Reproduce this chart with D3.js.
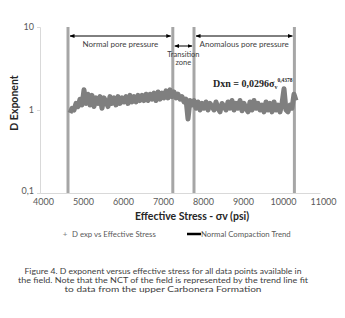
<!DOCTYPE html>
<html>
<head>
<meta charset="utf-8">
<script src="https://cdn.jsdelivr.net/npm/d3@7"></script>
<style>
  body { margin: 0; background: #fff; }
  text { font-family: "Lato", "Open Sans", sans-serif; }
</style>
</head>
<body>
<div id="chart-area"></div>
<script>
// data
var stress = [4750, 4800, 4850, 4900, 4950, 5000, 5050, 5100, 5150, 5200,
    5250, 5300, 5350, 5400, 5450, 5500, 5550, 5600, 5650, 5700,
    5750, 5800, 5850, 5900, 5950, 6000, 6050, 6100, 6150, 6200,
    6250, 6300, 6350, 6400, 6450, 6500, 6550, 6600, 6650, 6700,
    6750, 6800, 6850, 6900, 6950, 7000, 7050, 7100, 7150, 7200,
    7250, 7300, 7350, 7400, 7450, 7500, 7550, 7600, 7650, 7700,
    7750, 7800, 7850, 7900, 7950, 8000, 8050, 8100, 8150, 8200,
    8250, 8300, 8350, 8400, 8450, 8500, 8550, 8600, 8650, 8700,
    8750, 8800, 8850, 8900, 8950, 9000, 9050, 9100, 9150, 9200,
    9250, 9300, 9350, 9400, 9450, 9500, 9550, 9600, 9650, 9700,
    9750, 9800, 9850, 9900, 9950, 10000, 10050, 10100, 10150, 10200,
    10250, 10300, 10350, 10400];
var dexp = [0.92, 1.05, 1.0, 1.2, 1.1, 1.35, 1.15, 1.75, 1.2, 1.55,
    1.15, 1.5, 1.1, 1.4, 1.2, 1.45, 1.05, 1.4, 1.25, 1.1,
    1.45, 1.2, 1.4, 1.15, 1.45, 1.2, 1.4, 1.25, 1.45, 1.2,
    1.5, 1.25, 1.45, 1.25, 1.5, 1.3, 1.5, 1.3, 1.55, 1.3,
    1.55, 1.35, 1.6, 1.3, 1.65, 1.35, 1.6, 1.4, 1.7, 1.4,
    1.75, 1.45, 1.65, 1.4, 1.55, 1.35, 1.45, 1.25, 1.35, 0.78,
    1.3, 1.15, 1.3, 1.05, 1.25, 1.0, 1.2, 1.05, 1.25, 1.0,
    1.2, 1.1, 1.0, 1.25, 1.05, 0.95, 1.2, 1.1, 1.0, 1.25,
    1.05, 1.3, 1.0, 1.2, 1.05, 1.3, 0.98, 1.2, 1.05, 0.95,
    1.25, 1.0, 1.3, 1.05, 1.2, 1.0, 1.15, 0.95, 1.25, 1.0,
    1.2, 0.95, 1.25, 1.0, 1.15, 0.95, 1.2, 1.8, 1.0, 0.95,
    1.15, 1.05, 1.55, 1.3];

var xTicks = [4000, 5000, 6000, 7000, 8000, 9000, 10000, 11000];
var yTicks = [0.1, 1, 10];
var yTickLabels = ["0,1", "1", "10"];

// zone boundaries (psi)
var boundaries = [4700, 7320, 7850, 10360];
var zones = [
    { from: 4700, to: 7320, label: ["Normal pore pressure"], level: 0 },
    { from: 7320, to: 7850, label: ["Transition", "zone"], level: 1 },
    { from: 7850, to: 10360, label: ["Anomalous pore pressure"], level: 0 }
];

var caption = [
    "Figure 4. D exponent versus effective stress for all data points available in",
    "the field. Note that the NCT of the field is represented by the trend line fit",
    "to data from the upper Carbonera Formation"
];
var captionWidth = [277, 290, 197];

var W = 345, H = 318;
var margin = { left: 40, right: 25, top: 27, bottom: 125 };
var width = W - margin.left - margin.right,
    height = H - margin.top - margin.bottom;

var svg = d3.select("#chart-area")
    .append("svg")
        .attr("width", W)
        .attr("height", H);

var defs = svg.append("defs");
defs.append("marker")
    .attr("id", "arr")
    .attr("viewBox", "0 0 10 10")
    .attr("refX", 9).attr("refY", 5)
    .attr("markerWidth", 5).attr("markerHeight", 5)
    .attr("orient", "auto-start-reverse")
    .append("path")
        .attr("d", "M0,1 L10,5 L0,9 Z")
        .attr("fill", "#000");

var g = svg.append("g")
    .attr("transform", "translate(" + margin.left + "," + margin.top + ")");

var x = d3.scaleLinear().domain([4000, 11000]).range([0, width]);
var y = d3.scaleLog().domain([0.1, 10]).range([height, 0]);

// x axis
var xAxis = g.append("g")
    .attr("transform", "translate(0," + height + ")")
    .call(d3.axisBottom(x).tickValues(xTicks).tickSize(0).tickPadding(6)
        .tickFormat(function(d){ return d; }));
xAxis.select(".domain").attr("stroke", "#d9d9d9");
xAxis.selectAll("text")
    .attr("font-size", "9px")
    .attr("fill", "#595959")
    .attr("dx", "3px");

// y axis
var yAxis = g.append("g")
    .call(d3.axisLeft(y).tickValues(yTicks).tickSize(3).tickPadding(3)
        .tickFormat(function(d, i){ return yTickLabels[i]; }));
yAxis.select(".domain").attr("stroke", "#d9d9d9");
yAxis.selectAll("line").attr("stroke", "#d9d9d9");
yAxis.selectAll("text")
    .attr("font-size", "9px")
    .attr("fill", "#595959");
yAxis.selectAll(".tick").filter(function(d){ return d === 0.1; })
    .select("text").attr("dy", "0.1em");

// zone boundaries
g.selectAll(".bound")
    .data(boundaries)
    .enter().append("line")
        .attr("class", "bound")
        .attr("x1", function(d){ return x(d); })
        .attr("x2", function(d){ return x(d); })
        .attr("y1", 0)
        .attr("y2", height)
        .attr("stroke", "#a6a6a6")
        .attr("stroke-width", 3);

// data band
var line = d3.line()
    .x(function(d, i){ return x(stress[i]); })
    .y(function(d){ return y(d); });

g.append("path")
    .datum(dexp)
    .attr("d", line)
    .attr("fill", "none")
    .attr("stroke", "#7f7f7f")
    .attr("stroke-width", 5)
    .attr("stroke-linejoin", "round");

// zone arrows
zones.forEach(function(z){
    var ay = z.level === 0 ? 9 : 19;
    g.append("line")
        .attr("x1", x(z.from) + 2)
        .attr("x2", x(z.to) - 2)
        .attr("y1", ay).attr("y2", ay)
        .attr("stroke", "#000")
        .attr("stroke-width", 1)
        .attr("marker-start", "url(#arr)")
        .attr("marker-end", "url(#arr)");
    var t = g.append("text")
        .attr("x", (x(z.from) + x(z.to)) / 2)
        .attr("y", ay + 11)
        .attr("text-anchor", "middle")
        .attr("font-size", z.level === 0 ? "8px" : "7.5px")
        .attr("fill", "#404040");
    z.label.forEach(function(s, i){
        t.append("tspan")
            .attr("x", (x(z.from) + x(z.to)) / 2)
            .attr("dy", i === 0 ? 0 : 8)
            .text(s);
    });
});

// equation
var eq = g.append("text")
    .attr("x", 173)
    .attr("y", 60)
    .style("font-family", "'Liberation Serif', 'DejaVu Serif', serif")
    .attr("font-size", "10px")
    .attr("font-weight", "bold")
    .attr("fill", "#262626");
eq.append("tspan").text("Dxn = 0,0296σ");
eq.append("tspan").attr("font-size", "6px").attr("dy", 2).text("v");
eq.append("tspan").attr("font-size", "5.5px").attr("dy", -7).text("0,4378");

// axis titles
g.append("text")
    .attr("x", width / 2 + 12)
    .attr("y", height + 27)
    .attr("text-anchor", "middle")
    .attr("font-size", "10.5px")
    .attr("font-weight", "bold")
    .attr("fill", "#262626")
    .text("Effective Stress -  σv (psi)");

g.append("text")
    .attr("transform", "rotate(-90)")
    .attr("x", -76)
    .attr("y", -22)
    .attr("text-anchor", "middle")
    .attr("font-size", "10.5px")
    .attr("font-weight", "bold")
    .attr("fill", "#262626")
    .text("D Exponent");

// legend
var leg = svg.append("g").attr("transform", "translate(0,234)");
leg.append("text")
    .attr("x", 65).attr("y", 3)
    .attr("font-size", "8px")
    .attr("fill", "#7f7f7f")
    .attr("text-anchor", "middle")
    .text("+");
leg.append("text")
    .attr("x", 72).attr("y", 3)
    .attr("font-size", "7.8px")
    .attr("fill", "#595959")
    .text("D exp vs Effective Stress");
leg.append("line")
    .attr("x1", 187).attr("x2", 201)
    .attr("y1", 0).attr("y2", 0)
    .attr("stroke", "#000")
    .attr("stroke-width", 2.5);
leg.append("text")
    .attr("x", 201).attr("y", 3)
    .attr("font-size", "7.8px")
    .attr("fill", "#595959")
    .text("Normal Compaction Trend");

// caption
svg.selectAll(".cap")
    .data(caption)
    .enter().append("text")
        .attr("class", "cap")
        .attr("x", 163)
        .attr("y", function(d, i){ return 274 + i * 9; })
        .attr("text-anchor", "middle")
        .attr("font-size", "8px")
        .attr("fill", "#404040")
        .attr("textLength", function(d, i){ return captionWidth[i]; })
        .attr("lengthAdjust", "spacingAndGlyphs")
        .text(function(d){ return d; });
</script>
</body>
</html>
